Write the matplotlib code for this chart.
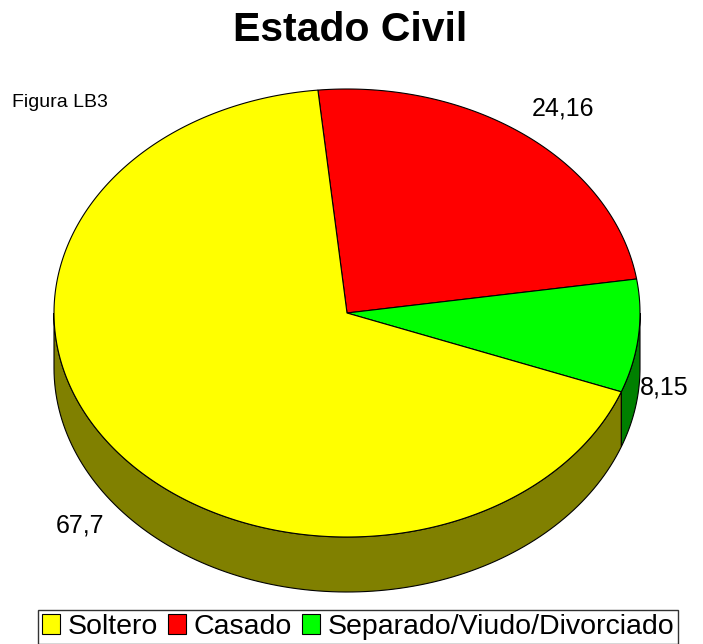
import numpy as np
import matplotlib
matplotlib.use("Agg")
import matplotlib.pyplot as plt
from matplotlib.patches import Polygon, Patch

plt.rcParams['font.family'] = ['Liberation Sans', 'DejaVu Sans']

categories = ["Soltero", "Casado", "Separado/Viudo/Divorciado"]
values = [67.7, 24.16, 8.15]
labels = ["67,7", "24,16", "8,15"]
top_colors = ["#ffff00", "#ff0000", "#00ff00"]
side_colors = ["#808000", "#800000", "#008000"]

W, H = 703, 644
fig = plt.figure(figsize=(W / 100, H / 100), dpi=100)
ax = fig.add_axes([0, 0, 1, 1])
ax.set_xlim(0, W)
ax.set_ylim(H, 0)
ax.axis("off")

cx, cy, rx, ry, depth = 347, 313, 293, 224, 55
start = 95.7  # degrees; Casado starts here going clockwise

# slice order drawn clockwise: Casado, Separado, Soltero
order = [1, 2, 0]
total = sum(values)
angles = {}
a = start
for i in order:
    span = values[i] / total * 360
    angles[i] = (a - span, a)
    a -= span


def pt(t, dy=0):
    r = np.radians(t)
    return cx + rx * np.cos(r), cy - ry * np.sin(r) + dy

# side walls (front half: angles in [-180, 0] modulo 360)
for i in order:
    a1, a2 = angles[i]
    for k in (-360, 0):
        lo = max(a1 - k, -180)
        hi = min(a2 - k, 0)
        if hi > lo:
            ts = np.linspace(lo, hi, 120)
            top = [pt(t) for t in ts]
            bot = [pt(t, depth) for t in ts[::-1]]
            ax.add_patch(Polygon(top + bot, closed=True, facecolor=side_colors[i],
                                 edgecolor="black", lw=0.8, zorder=1))

# top faces
for i in order:
    a1, a2 = angles[i]
    ts = np.linspace(a1, a2, 300)
    poly = [(cx, cy)] + [pt(t) for t in ts]
    ax.add_patch(Polygon(poly, closed=True, facecolor=top_colors[i],
                         edgecolor="black", lw=0.8, zorder=2))

# value labels
ax.text(80, 525, labels[0], fontsize=18, ha="center", va="center")
ax.text(563, 108, labels[1], fontsize=18, ha="center", va="center")
ax.text(664, 387, labels[2], fontsize=18, ha="center", va="center")

ax.text(350, 30, "Estado Civil", fontsize=29.5, fontweight="bold", ha="center", va="center")
ax.text(12, 102, "Figura LB3", fontsize=14, ha="left", va="center")

handles = [Patch(facecolor=c, edgecolor="black", lw=0.8) for c in top_colors]
leg = fig.legend(handles, categories, loc="center", bbox_to_anchor=(358 / W, 1 - 627 / H),
                 ncol=3, fontsize=20.5, frameon=True, fancybox=False, edgecolor="black",
                 handlelength=0.65, handleheight=0.65, handletextpad=0.25,
                 columnspacing=0.35, borderpad=0.15, borderaxespad=0)
leg.get_frame().set_linewidth(1.0)

fig.savefig("out.png", dpi=100)
